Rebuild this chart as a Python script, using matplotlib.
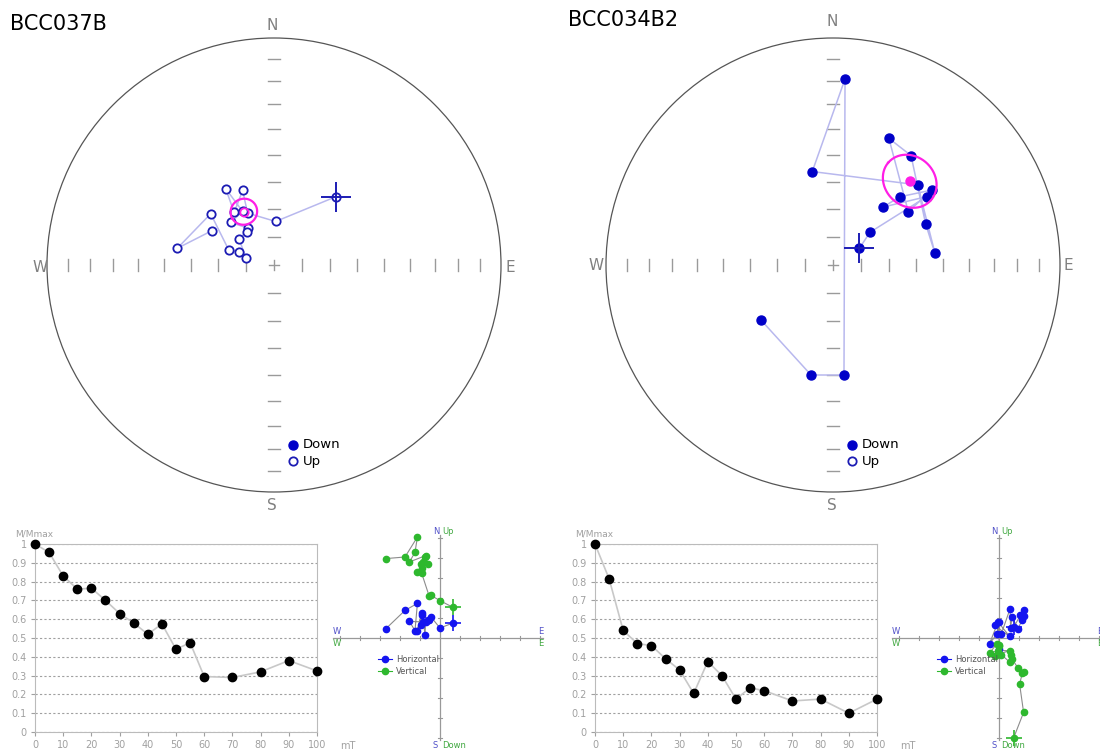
import numpy as np
import matplotlib.pyplot as plt
from matplotlib.patches import Circle

W, H = 1100, 753

# demagnetisation steps (mT)
steps = [0, 5, 10, 15, 20, 25, 30, 35, 40, 45, 50, 55, 60, 70, 80, 90, 100]

# ---- sample BCC037B ----
a_name = 'BCC037B'
a_mmax = [1.0, 0.955, 0.83, 0.76, 0.765, 0.70, 0.63, 0.58, 0.52, 0.575,
          0.44, 0.475, 0.295, 0.29, 0.32, 0.38, 0.325]
a_dec = [42.2, 2.2, 333.0, 337.2, 322.8, 327.7, 329.6, 314.5, 325.0, 320.6,
         306.8, 283.5, 291.0, 288.4, 309.0, 279.8, 298.7]
a_inc = [-56.6, -74.4, -69.1, -60.8, -66.3, -57.3, -67.7, -68.2, -73.9, -74.5,
         -74.4, -79.7, -76.6, -72.9, -60.6, -54.4, -64.4]
a_mean = [330.5, -68.0, 4.7]   # dec, inc, a95
a_east = [0.65, 0.00, -0.45, -0.55, -0.92, -1.13, -0.92, -0.95, -0.62, -0.83,
          -0.75, -0.72, -1.53, -1.25, -1.13, -1.75, -2.72]
a_north = [0.75, 0.50, 1.05, 0.88, 1.17, 0.37, 1.25, 0.67, 0.88, 0.80,
           0.17, 0.80, 0.83, 0.37, 1.73, 1.38, 0.45]
a_up = [1.53, 1.87, 2.13, 2.12, 3.25, 3.30, 3.50, 3.70, 3.70, 3.80,
        4.03, 4.12, 3.80, 4.28, 5.05, 4.05, 3.97]

# ---- sample BCC034B2 ----
b_name = 'BCC034B2'
b_mmax = [1.0, 0.815, 0.54, 0.47, 0.46, 0.39, 0.33, 0.205, 0.375, 0.30,
          0.175, 0.235, 0.22, 0.165, 0.175, 0.10, 0.175]
b_dec = [57.6, 48.5, 53.9, 40.7, 44.5, 52.8, 54.7, 23.8, 35.5, 66.1,
         83.5, 46.6, 347.5, 3.7, 174.3, 191.3, 232.6]
b_inc = [78.8, 72.3, 47.6, 62.5, 55.3, 44.6, 56.6, 38.9, 40.5, 53.2,
         52.7, 47.4, 55.3, 19.0, 49.7, 49.1, 57.2]
b_mean = [42.5, 48.4, 9.5]
b_east = [0.73, 1.23, 1.03, 1.17, 1.23, 0.95, 0.65, 0.58, 0.55, 0.12,
          -0.22, 0.53, -0.05, -0.47, -0.10, 0.00, 0.00]
b_north = [0.53, 1.42, 1.13, 0.92, 1.08, 0.45, 1.05, 0.50, 1.45, 0.22,
           0.63, 0.08, 0.80, -0.28, 0.20, 0.80, -0.53]
b_up = [-5.00, -3.72, -2.30, -1.75, -1.72, -1.50, -1.05, -0.83, -1.22, -0.83,
        -0.88, -0.63, -0.63, -0.75, -0.28, -0.33, -0.40]

fig = plt.figure(figsize=(W / 100, H / 100), dpi=100)


def px_axes(x0, y0, w, h):
    return fig.add_axes([x0 / W, 1 - (y0 + h) / H, w / W, h / H])


def eqarea(inc):
    return np.sqrt(2) * np.sin(np.radians(90 - np.abs(inc)) / 2)


def project(dec, inc):
    r = eqarea(np.asarray(inc, float))
    d = np.radians(np.asarray(dec, float))
    return r * np.sin(d), r * np.cos(d)


def small_circle(dec, inc, a95):
    d, i, a = np.radians([dec, inc, a95])
    m = np.array([np.cos(i) * np.cos(d), np.cos(i) * np.sin(d), np.sin(i)])
    u = np.cross(m, [0, 0, 1.0])
    u /= np.linalg.norm(u)
    w = np.cross(m, u)
    t = np.linspace(0, 2 * np.pi, 200)
    v = (np.cos(a) * m[:, None] + np.sin(a) * (np.outer(u, np.cos(t)) + np.outer(w, np.sin(t))))
    cdec = np.degrees(np.arctan2(v[1], v[0]))
    cinc = np.degrees(np.arcsin(np.clip(v[2], -1, 1)))
    return project(cdec, cinc)


def stereonet(cx, cy, R, dec, inc, mean, labels_px):
    ax = px_axes(cx - 250, cy - 260, 500, 520)
    ax.set_xlim(-250 / R, 250 / R)
    ax.set_ylim(-260 / R, 260 / R)
    ax.axis('off')
    ax.add_patch(Circle((0, 0), 1, fill=False, ec='#555555', lw=0.9))
    tl = 6 / R
    for k in range(10, 90, 10):
        r = eqarea(k)
        for s in (-1, 1):
            ax.plot([s * r, s * r], [-tl, tl], color='#9a9a9a', lw=1.0)
            ax.plot([-tl, tl], [s * r, s * r], color='#9a9a9a', lw=1.0)
    ax.plot([-5 / R, 5 / R], [0, 0], color='#9a9a9a', lw=1.0)
    ax.plot([0, 0], [-5 / R, 5 / R], color='#9a9a9a', lw=1.0)
    for lab, (lx, ly) in zip('NSWE', labels_px):
        ax.text((lx - cx) / R, (cy - ly) / R, lab, color='#808080', fontsize=11,
                ha='center', va='center')

    x, y = project(dec, inc)
    ax.plot(x, y, color='#b8b8ee', lw=1.1, zorder=2)
    down = np.asarray(inc) >= 0
    ax.plot(x[down], y[down], 'o', ms=6.5, color='#0000c8', zorder=3)
    ax.plot(x[~down], y[~down], 'o', ms=6, mfc='white', mec='#1c1cb4', mew=1.3, zorder=3)
    ax.plot(x[0], y[0], '+', ms=22, mew=1.4, color='#1c1cb4', zorder=4)

    mx, my = project(mean[0], mean[1])
    sx, sy = small_circle(*mean)
    ax.plot(sx, sy, color='#ff1ee6', lw=1.6, zorder=4)
    if mean[1] >= 0:
        ax.plot(mx, my, 'o', ms=6.5, color='#ff1ee6', zorder=5)
    else:
        ax.plot(mx, my, 'o', ms=6, mfc='none', mec='#ff1ee6', mew=1.3, zorder=5)

    # legend
    lx = 19 / R
    ax.plot(lx, -180 / R, 'o', ms=6.5, color='#0000c8')
    ax.plot(lx, -196 / R, 'o', ms=6, mfc='white', mec='#1c1cb4', mew=1.3)
    ax.text(lx + 10 / R, -180 / R, 'Down', fontsize=9.5, va='center')
    ax.text(lx + 10 / R, -196 / R, 'Up', fontsize=9.5, va='center')


def demag(x0, mmax):
    ax = px_axes(x0, 544, 282, 188)
    ax.plot(steps, mmax, color='#c8c8c8', lw=1.2, zorder=2, clip_on=False)
    ax.plot(steps, mmax, 'o', ms=6, color='black', zorder=3, clip_on=False)
    ax.set_xlim(0, 100)
    ax.set_ylim(0, 1)
    ax.set_xticks(range(0, 101, 10))
    ax.set_yticks(np.arange(0, 1.01, 0.1))
    ax.set_yticklabels(['0', '0.1', '0.2', '0.3', '0.4', '0.5', '0.6', '0.7', '0.8', '0.9', '1'])
    ax.tick_params(labelsize=7, colors='#a0a0a0', length=3, width=0.8, pad=3)
    for sp in ax.spines.values():
        sp.set_color('#bbbbbb')
    ax.yaxis.grid(True, color='#a0a0a0', lw=0.8, ls=(0, (2, 2)))
    ax.set_axisbelow(True)
    fig.text((x0 - 20) / W, 1 - 534 / H, 'M/Mmax', fontsize=6.5, color='#a0a0a0', va='center')
    fig.text((x0 + 305) / W, 1 - 746 / H, 'mT', fontsize=7, color='#a0a0a0', va='center')


def zijderveld(cx, east, north, up, right_px):
    cy, u = 638, 20.0
    ax = px_axes(cx - 112, 528, 112 + right_px, 224)
    ax.set_xlim(-112 / u, right_px / u)
    ax.set_ylim(-(752 - cy) / u, (cy - 528) / u)
    ax.axis('off')
    xl, xr = -107 / u, min(103, right_px) / u
    ax.plot([xl, xr], [0, 0], color='#999999', lw=0.9)
    ax.plot([0, 0], [-102 / u, 103 / u], color='#999999', lw=0.9)
    for k in range(-5, 6):
        if k == 0:
            continue
        ax.plot([k, k], [-0.12, 0.12], color='#999999', lw=0.8)
        ax.plot([-0.12, 0.12], [k, k], color='#999999', lw=0.8)
    blue, green = '#1414f0', '#2eb82e'
    ax.text(-0.05, 5.35, 'N', color='#5050c8', fontsize=6, ha='right', va='center')
    ax.text(0.1, 5.35, 'Up', color='#40a840', fontsize=6, ha='left', va='center')
    ax.text(-0.1, -5.35, 'S', color='#5050c8', fontsize=6, ha='right', va='center')
    ax.text(0.1, -5.35, 'Down', color='#40a840', fontsize=6, ha='left', va='center')
    ax.text(xl, 0.3, 'W', color='#5050c8', fontsize=6, ha='left', va='center')
    ax.text(xl, -0.3, 'W', color='#40a840', fontsize=6, ha='left', va='center')
    ax.text(103 / u, 0.3, 'E', color='#5050c8', fontsize=6, ha='right', va='center')
    ax.text(103 / u, -0.3, 'E', color='#40a840', fontsize=6, ha='right', va='center')

    ax.plot(east, north, color='#8c8c8c', lw=0.8, zorder=2)
    ax.plot(east, up, color='#8c8c8c', lw=0.8, zorder=2)
    ax.plot(east, north, 'o', ms=4.5, color=blue, zorder=3)
    ax.plot(east, up, 'o', ms=4.5, color=green, zorder=3)
    ax.plot(east[0], north[0], '+', ms=11, mew=1.2, color=blue, zorder=4)
    ax.plot(east[0], up[0], '+', ms=11, mew=1.2, color=green, zorder=4)

    # legend
    lx = -2.75
    for yy, c, lab in ((-1.05, blue, 'Horizontal'), (-1.65, green, 'Vertical')):
        ax.plot([lx - 0.35, lx + 0.35], [yy, yy], color=c, lw=0.8)
        ax.plot(lx, yy, 'o', ms=4.5, color=c)
        ax.text(lx + 0.55, yy, lab, fontsize=6, color='#555555', va='center')


stereonet(274, 265, 227, a_dec, a_inc, a_mean,
          [(272, 25), (272, 506), (40, 267), (510, 267)])
stereonet(833, 265, 227, b_dec, b_inc, b_mean,
          [(832, 22), (832, 506), (596, 266), (1068, 266)])

demag(35, a_mmax)
demag(595, b_mmax)

zijderveld(440, a_east, a_north, a_up, 110)
zijderveld(999, b_east, b_north, b_up, 101)

fig.text(10 / W, 1 - 24 / H, a_name, fontsize=15, va='center')
fig.text(568 / W, 1 - 20 / H, b_name, fontsize=15, va='center')

fig.savefig('out.png', dpi=100)
